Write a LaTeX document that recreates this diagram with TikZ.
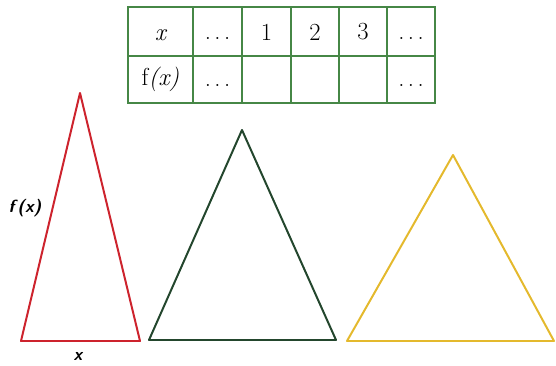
\documentclass[tikz,border=0pt]{standalone}
\usepackage{fontspec}
\usepackage{xcolor}
\usepackage{tikz}
\usetikzlibrary{positioning,calc}
\definecolor{tabgreen}{RGB}{70,135,70}
\definecolor{trired}{RGB}{205,35,45}
\definecolor{tridark}{RGB}{35,70,45}
\definecolor{triyellow}{RGB}{228,185,45}
\newcommand{\tabdots}{.\kern3pt.\kern3pt.}
\tikzset{
  tabline/.style={draw=tabgreen, line width=1pt},
  tabtext/.style={font=\fontsize{21}{25}\selectfont, inner sep=0pt},
  trione/.style={draw=trired, line width=1.7pt, line join=round},
  tritwo/.style={draw=tridark, line width=1.7pt, line join=round},
  trithree/.style={draw=triyellow, line width=1.7pt, line join=round},
  sidelabel/.style={font=\sffamily\bfseries\itshape\fontsize{15}{18}\selectfont, inner sep=1pt},
}
\begin{document}
\begin{tikzpicture}[x=0.03cm, y=-0.03cm]
    \useasboundingbox (0,0) rectangle (556,366);
    % value table
    \draw[tabline] (128,7) rectangle (435,103);
    \draw[tabline] (128,56) -- (435,56);
    \foreach \cx in {193,242,291,339,387}
      \draw[tabline] (\cx,7) -- (\cx,103);
    \node[tabtext] (hx)  at (160.5,35) {\itshape x};
    \node[tabtext] (h0)  at (217.5,38) {\tabdots};
    \node[tabtext] (h1)  at (266.5,32) {1};
    \node[tabtext] (h2)  at (315,32)   {2};
    \node[tabtext] (h3)  at (363,32)   {3};
    \node[tabtext] (h4)  at (411,38)   {\tabdots};
    \node[tabtext] (fx)  at (160.5,79) {f\textit{(x)}};
    \node[tabtext] (f0)  at (217.5,85) {\tabdots};
    \node[tabtext] (f4)  at (411,85)   {\tabdots};
    % triangles
    \coordinate (ra) at (80,93);
    \coordinate (rb) at (21,341);
    \coordinate (rc) at (140,341);
    \draw[trione] (ra) -- (rb) -- (rc) -- cycle;
    \coordinate (ga) at (242,130);
    \coordinate (gb) at (149,340);
    \coordinate (gc) at (336,340);
    \draw[tritwo] (ga) -- (gb) -- (gc) -- cycle;
    \coordinate (ya) at (453,155);
    \coordinate (yb) at (347,341);
    \coordinate (yc) at (554,341);
    \draw[trithree] (ya) -- (yb) -- (yc) -- cycle;
    % side labels
    \node[sidelabel] (lf) at (25,208) {f\,(x)};
    \node[sidelabel] (lx) at (78,356) {x};
\end{tikzpicture}
\end{document}
